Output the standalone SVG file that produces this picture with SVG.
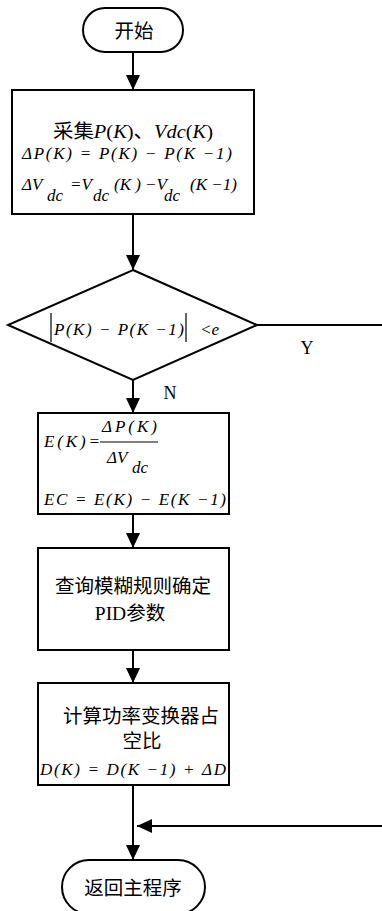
<svg xmlns="http://www.w3.org/2000/svg" width="382" height="911" viewBox="0 0 382 911">
<style>
.shape{fill:#fff;stroke:#000;stroke-width:2}
.conn{fill:none;stroke:#000;stroke-width:2}
text{font-family:"Liberation Serif","Noto Sans CJK SC",serif;font-size:17px;fill:#000}
.cn{font-size:19.5px}
.m{font-style:italic}
.mc{text-anchor:middle}
</style>
<defs>
<marker id="arr" markerUnits="userSpaceOnUse" markerWidth="15" markerHeight="14" refX="15" refY="7" orient="auto">
<path d="M0,0 L15,7 L0,14 z" fill="#000"/>
</marker>
</defs>
<rect width="382" height="911" fill="#fff"/>
<g id="connectors">
<path class="conn" d="M133 52 V90" marker-end="url(#arr)"/>
<path class="conn" d="M133 214 V270" marker-end="url(#arr)"/>
<path class="conn" d="M133 380 V413" marker-end="url(#arr)"/>
<path class="conn" d="M133 514 V548" marker-end="url(#arr)"/>
<path class="conn" d="M133 650 V683" marker-end="url(#arr)"/>
<path class="conn" d="M133 785 V860" marker-end="url(#arr)"/>
<path class="conn" d="M257 325 H392 V826 H137" marker-end="url(#arr)"/>
<text x="307" y="354" class="mc" style="font-size:18px">Y</text>
<text x="170" y="399" class="mc" style="font-size:18px">N</text>
</g>
<g id="start">
<rect class="shape" x="83" y="8" width="100" height="44" rx="22"/>
<text x="134" y="38" class="mc cn">开始</text>
</g>
<g id="collect">
<rect class="shape" x="12" y="90" width="242" height="124"/>
<text x="53" y="138" class="cn" textLength="160" lengthAdjust="spacingAndGlyphs">采集<tspan class="m">P</tspan>(<tspan class="m">K</tspan>)、<tspan class="m">Vdc</tspan>(<tspan class="m">K</tspan>)</text>
<text x="22" y="159" class="m" textLength="210" lengthAdjust="spacing">ΔP(K) = P(K) − P(K −1)</text>
<text y="190" class="m"><tspan x="22">ΔV</tspan><tspan x="47" dy="11">dc</tspan><tspan x="70" dy="-11">=V</tspan><tspan x="93" dy="11">dc</tspan><tspan x="114" dy="-11">(K )</tspan><tspan x="145">−V</tspan><tspan x="164" dy="11">dc</tspan><tspan x="190" dy="-11">(K   −1)</tspan></text>
</g>
<g id="decision">
<polygon class="shape" points="133,270 257,325 133,380 8,325"/>
<path d="M51 313 V342 M186 313 V342" stroke="#000" stroke-width="1.2"/>
<text x="54" y="335" class="m" textLength="130" lengthAdjust="spacing">P(K) − P(K −1)</text>
<text x="200" y="335" class="m">&lt;e</text>
</g>
<g id="error">
<rect class="shape" x="38" y="413" width="191" height="101"/>
<text x="44" y="447" class="m" textLength="56" lengthAdjust="spacing">E(K)=</text>
<text x="102" y="432" class="m" textLength="55" lengthAdjust="spacing">ΔP(K)</text>
<path d="M100 442 H158" stroke="#000" stroke-width="1"/>
<text y="463" class="m"><tspan x="107">ΔV</tspan><tspan x="132" dy="10">dc</tspan></text>
<text x="44" y="505" class="m" textLength="182" lengthAdjust="spacing">EC = E(K) − E(K −1)</text>
</g>
<g id="fuzzy">
<rect class="shape" x="38" y="548" width="191" height="102"/>
<text x="133" y="593" class="mc cn">查询模糊规则确定</text>
<text x="130" y="620" class="mc cn">PID参数</text>
</g>
<g id="duty">
<rect class="shape" x="38" y="683" width="191" height="102"/>
<text x="141" y="723" class="mc cn">计算功率变换器占</text>
<text x="142" y="748" class="mc cn">空比</text>
<text x="40" y="775" class="m" textLength="186" lengthAdjust="spacing">D(K) = D(K −1) + ΔD</text>
</g>
<g id="end">
<rect class="shape" x="62" y="860" width="143" height="54" rx="27"/>
<text x="133" y="895" class="mc cn">返回主程序</text>
</g>
</svg>
